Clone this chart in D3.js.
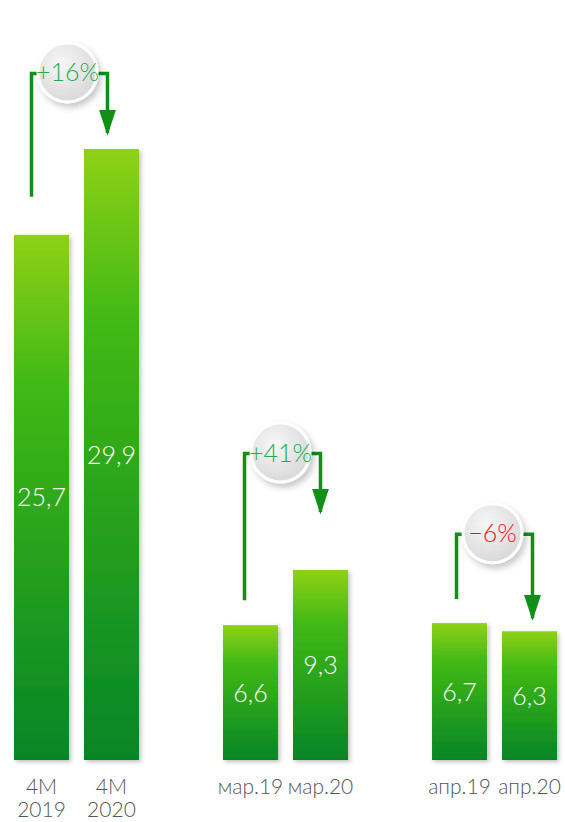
<!DOCTYPE html>
<html>
<head>
<meta charset="utf-8">
<script src="https://cdn.jsdelivr.net/npm/d3@7"></script>
<style>
  body { margin: 0; background: #fff; }
  svg { display: block; font-family: Lato, "Open Sans", sans-serif; }
</style>
</head>
<body>
<svg id="chart"></svg>
<script>
// data
var groups = ["4M", "mar", "apr"];
var barLabels = [["4M\n2019", "4M\n2020"], ["мар.19", "мар.20"], ["апр.19", "апр.20"]];
var prevValues = [25.7, 6.6, 6.7];
var currValues = [29.9, 9.3, 6.3];
var valueText = [["25,7", "29,9"], ["6,6", "9,3"], ["6,7", "6,3"]];
var changeText = ["+16%", "+41%", "−6%"];
var changeUp = [true, true, false];

var screen = { width: 565, height: 822 };
var margins = { top: 10, bottom: 62, left: 14, right: 8 };

var drawChart = function()
{
  var svg = d3.select("#chart")
              .attr("width", screen.width)
              .attr("height", screen.height);

  var defs = svg.append("defs");

  var grad = defs.append("linearGradient")
                 .attr("id", "barGrad")
                 .attr("x1", 0).attr("y1", 0)
                 .attr("x2", 0).attr("y2", 1);
  grad.append("stop").attr("offset", "0%").attr("stop-color", "#8fd118");
  grad.append("stop").attr("offset", "28%").attr("stop-color", "#42b914");
  grad.append("stop").attr("offset", "100%").attr("stop-color", "#068527");

  var badgeGrad = defs.append("radialGradient")
                      .attr("id", "badgeGrad")
                      .attr("cx", "40%").attr("cy", "35%").attr("r", "65%");
  badgeGrad.append("stop").attr("offset", "0%").attr("stop-color", "#f7f7f7");
  badgeGrad.append("stop").attr("offset", "100%").attr("stop-color", "#d9d9d9");

  var shadow = defs.append("filter").attr("id", "shadow")
                   .attr("x", "-20%").attr("y", "-20%")
                   .attr("width", "150%").attr("height", "150%");
  shadow.append("feDropShadow")
        .attr("dx", 2).attr("dy", 2).attr("stdDeviation", 2)
        .attr("flood-color", "#000").attr("flood-opacity", 0.25);

  var badgeShadow = defs.append("filter").attr("id", "badgeShadow")
                   .attr("x", "-30%").attr("y", "-30%")
                   .attr("width", "170%").attr("height", "170%");
  badgeShadow.append("feDropShadow")
        .attr("dx", 3).attr("dy", 4).attr("stdDeviation", 3)
        .attr("flood-color", "#000").attr("flood-opacity", 0.22);

  var arrowHead = defs.append("marker")
                      .attr("id", "arrow")
                      .attr("viewBox", "0 0 10 10")
                      .attr("preserveAspectRatio", "none")
                      .attr("refX", 9).attr("refY", 5)
                      .attr("markerUnits", "userSpaceOnUse")
                      .attr("markerWidth", 26).attr("markerHeight", 17)
                      .attr("orient", "auto");
  arrowHead.append("path").attr("d", "M0,0 L10,5 L0,10 Z").attr("fill", "#128f17");

  var graphBottom = screen.height - margins.bottom;

  var xOuter = d3.scaleBand()
                 .domain(groups)
                 .range([margins.left, screen.width - margins.right])
                 .paddingInner(0.402)
                 .paddingOuter(0);

  var xInner = d3.scaleBand()
                 .domain([0, 1])
                 .range([0, xOuter.bandwidth()])
                 .paddingInner(0.214);

  var yScale = d3.scaleLinear()
                 .domain([0, 30])
                 .range([graphBottom, graphBottom - 613]);

  var barData = [];
  groups.forEach(function(g, i) {
    [prevValues[i], currValues[i]].forEach(function(v, j) {
      barData.push({ group: g, gi: i, idx: j, value: v,
                     text: valueText[i][j], label: barLabels[i][j] });
    });
  });

  var barX = function(d) { return xOuter(d.group) + xInner(d.idx); };

  var bars = svg.append("g").classed("bars", true);

  bars.selectAll("rect")
      .data(barData)
      .enter()
      .append("rect")
      .attr("x", barX)
      .attr("y", function(d) { return yScale(d.value); })
      .attr("width", xInner.bandwidth())
      .attr("height", function(d) { return graphBottom - yScale(d.value); })
      .attr("fill", "url(#barGrad)")
      .attr("filter", "url(#shadow)");

  bars.selectAll("text.value")
      .data(barData)
      .enter()
      .append("text")
      .classed("value", true)
      .text(function(d) { return d.text; })
      .attr("x", function(d) { return barX(d) + xInner.bandwidth() / 2; })
      .attr("y", function(d) { return (yScale(d.value) + graphBottom) / 2 + 9; })
      .attr("text-anchor", "middle")
      .attr("fill", "#fff")
      .attr("font-size", 25)
      .attr("font-weight", 300);

  // category labels under bars
  var labels = svg.append("g").classed("labels", true);
  barData.forEach(function(d) {
    var t = labels.append("text")
                  .attr("x", barX(d) + xInner.bandwidth() / 2)
                  .attr("y", graphBottom + 34)
                  .attr("text-anchor", "middle")
                  .attr("fill", "#555")
                  .attr("font-size", 21)
                  .attr("font-weight", 300);
    d.label.split("\n").forEach(function(line, k) {
      t.append("tspan")
       .attr("x", barX(d) + xInner.bandwidth() / 2)
       .attr("dy", k === 0 ? 0 : 23)
       .text(line);
    });
  });

  // change brackets with badges
  var bracketLevel = [33.6, 15.0, 11.05];   // value units
  var leftGap = [38, 25, 24];
  var tipGap = [14, 56, 11];
  var leftShift = [-10, -6, -3];
  var rightShift = [-4, 0, 3];

  var notes = svg.append("g").classed("notes", true);
  groups.forEach(function(g, i) {
    var lx = xOuter(g) + xInner(0) + xInner.bandwidth() / 2 + leftShift[i];
    var rx = xOuter(g) + xInner(1) + xInner.bandwidth() / 2 + rightShift[i];
    var by = yScale(bracketLevel[i]);
    var lb = yScale(prevValues[i]) - leftGap[i];
    var tip = yScale(currValues[i]) - tipGap[i];

    notes.append("path")
         .attr("d", "M" + lx + "," + lb + " V" + by + " H" + (lx + 12))
         .attr("fill", "none")
         .attr("stroke", "#128f17")
         .attr("stroke-width", 3.5);

    notes.append("path")
         .attr("d", "M" + (rx - 14) + "," + by + " H" + rx + " V" + (tip - 2))
         .attr("fill", "none")
         .attr("stroke", "#128f17")
         .attr("stroke-width", 3.5)
         .attr("marker-end", "url(#arrow)");

    var cx = (lx + rx) / 2 - 2;
    notes.append("circle")
         .attr("cx", cx)
         .attr("cy", by - 1)
         .attr("r", 29.5)
         .attr("fill", "url(#badgeGrad)")
         .attr("stroke", "#fff")
         .attr("stroke-width", 3)
         .attr("filter", "url(#badgeShadow)");

    notes.append("text")
         .text(changeText[i])
         .attr("x", cx)
         .attr("y", by + 8)
         .attr("text-anchor", "middle")
         .attr("fill", changeUp[i] ? "#1aae4c" : "#f01010")
         .attr("font-size", 25)
         .attr("font-weight", 300);
  });
};

drawChart();
</script>
</body>
</html>
